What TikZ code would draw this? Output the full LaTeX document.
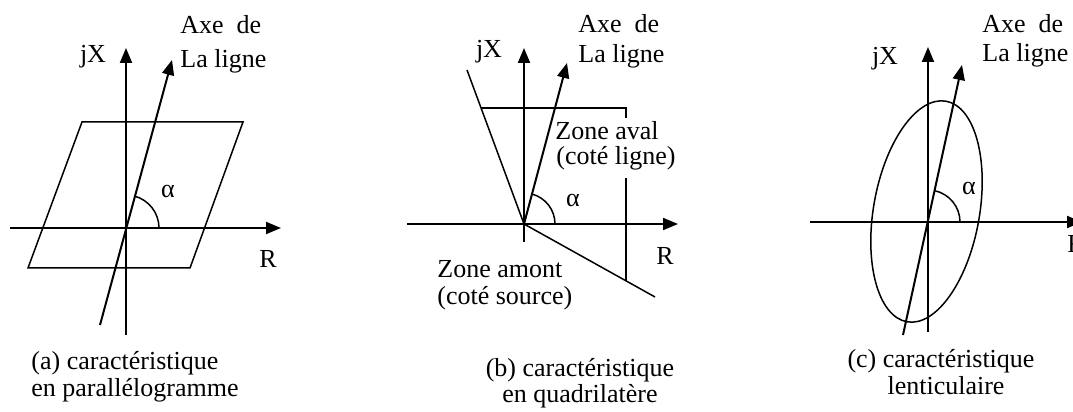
\documentclass[tikz,border=0pt]{standalone}
\usepackage{fontspec}
\setmainfont{Liberation Serif}
\usetikzlibrary{arrows.meta}

\tikzset{
  axe/.style={line width=1pt, -{Triangle[length=7.5pt,width=6pt]}},
  trait/.style={line width=0.75pt},
  txt/.style={font=\fontsize{13}{15}\selectfont, inner sep=0pt},
}

\begin{document}
\begin{tikzpicture}[x=0.5pt,y=0.5pt]
  \useasboundingbox (0,0) rectangle (1073,412);

  % (a) caracteristique en parallelogramme
  \begin{scope}[shift={(126,184)}]
    \draw[axe] (0,-107) -- (0,180);
    \draw[axe] (-116,0) -- (155,0);
    \draw[axe] (-26,-97) -- (46,168);
    \draw[trait] (-44,106) -- (117,106) -- (64,-40) -- (-98,-40) -- cycle;
    \draw[trait] (33,0) arc[start angle=0, end angle=75, radius=16.5pt];
    \node[txt, anchor=base] (jXa) at (-33,165) {jX};
    \node[txt, anchor=base west] (axea1) at (54,194) {Axe\ \ de};
    \node[txt, anchor=base west] (axea2) at (54,160) {La ligne};
    \node[txt, anchor=base] (alphaa) at (42,30) {α};
    \node[txt, anchor=base] (Ra) at (142,-40) {R};
    \node[txt, anchor=base west] (capa1) at (-95,-142) {(a) caractéristique};
    \node[txt, anchor=base west] (capa2) at (-95,-169) {en parallélogramme};
  \end{scope}

  % (b) caracteristique en quadrilatere
  \begin{scope}[shift={(524,188)}]
    \draw[axe] (0,-18) -- (0,176);
    \draw[axe] (-117,0) -- (154,0);
    \draw[axe] (0,0) -- (43,161);
    \draw[trait] (0,0) -- (-57,154);
    \draw[trait] (-43,116) -- (102,116) -- (102,106);
    \draw[trait] (102,46) -- (102,-57);
    \draw[trait] (0,0) -- (131,-73);
    \draw[trait] (31,0) arc[start angle=0, end angle=75, radius=15.5pt];
    \node[txt, anchor=base] (jXb) at (-35,166) {jX};
    \node[txt, anchor=base west] (axeb1) at (54,191) {Axe\ \ de};
    \node[txt, anchor=base west] (axeb2) at (54,161) {La ligne};
    \node[txt, anchor=base west] (aval1) at (31,84) {Zone aval};
    \node[txt, anchor=base west] (aval2) at (32,59) {(coté ligne)};
    \node[txt, anchor=base] (alphab) at (49,17) {α};
    \node[txt, anchor=base] (Rb) at (141,-41) {R};
    \node[txt, anchor=base west] (amont1) at (-87,-54) {Zone amont};
    \node[txt, anchor=base west] (amont2) at (-87,-81) {(coté source)};
    \node[txt, anchor=base] (capb1) at (56,-153) {(b) caractéristique};
    \node[txt, anchor=base] (capb2) at (56,-179) {en quadrilatère};
  \end{scope}

  % (c) caracteristique lenticulaire
  \begin{scope}[shift={(928,190)}]
    \draw[axe] (0,-110) -- (0,175);
    \draw[axe] (-118,0) -- (154,0);
    \draw[axe] (-25,-113) -- (34,157);
    \draw[trait, rotate around={80:(-1.5,10.5)}] (-1.5,10.5)
      ellipse[x radius=56pt, y radius=26.5pt];
    \draw[trait] (32,0) arc[start angle=0, end angle=78, radius=16pt];
    \node[txt, anchor=base] (jXc) at (-43,157) {jX};
    \node[txt, anchor=base west] (axec1) at (54,189) {Axe\ \ de};
    \node[txt, anchor=base west] (axec2) at (54,160) {La ligne};
    \node[txt, anchor=base] (alphac) at (41,27) {α};
    \node[txt, anchor=base west] (Rc) at (139,-31) {R};
    \node[txt, anchor=base] (capc1) at (13,-146) {(c) caractéristique};
    \node[txt, anchor=base] (capc2) at (18,-173) {lenticulaire};
  \end{scope}

\end{tikzpicture}
\end{document}
